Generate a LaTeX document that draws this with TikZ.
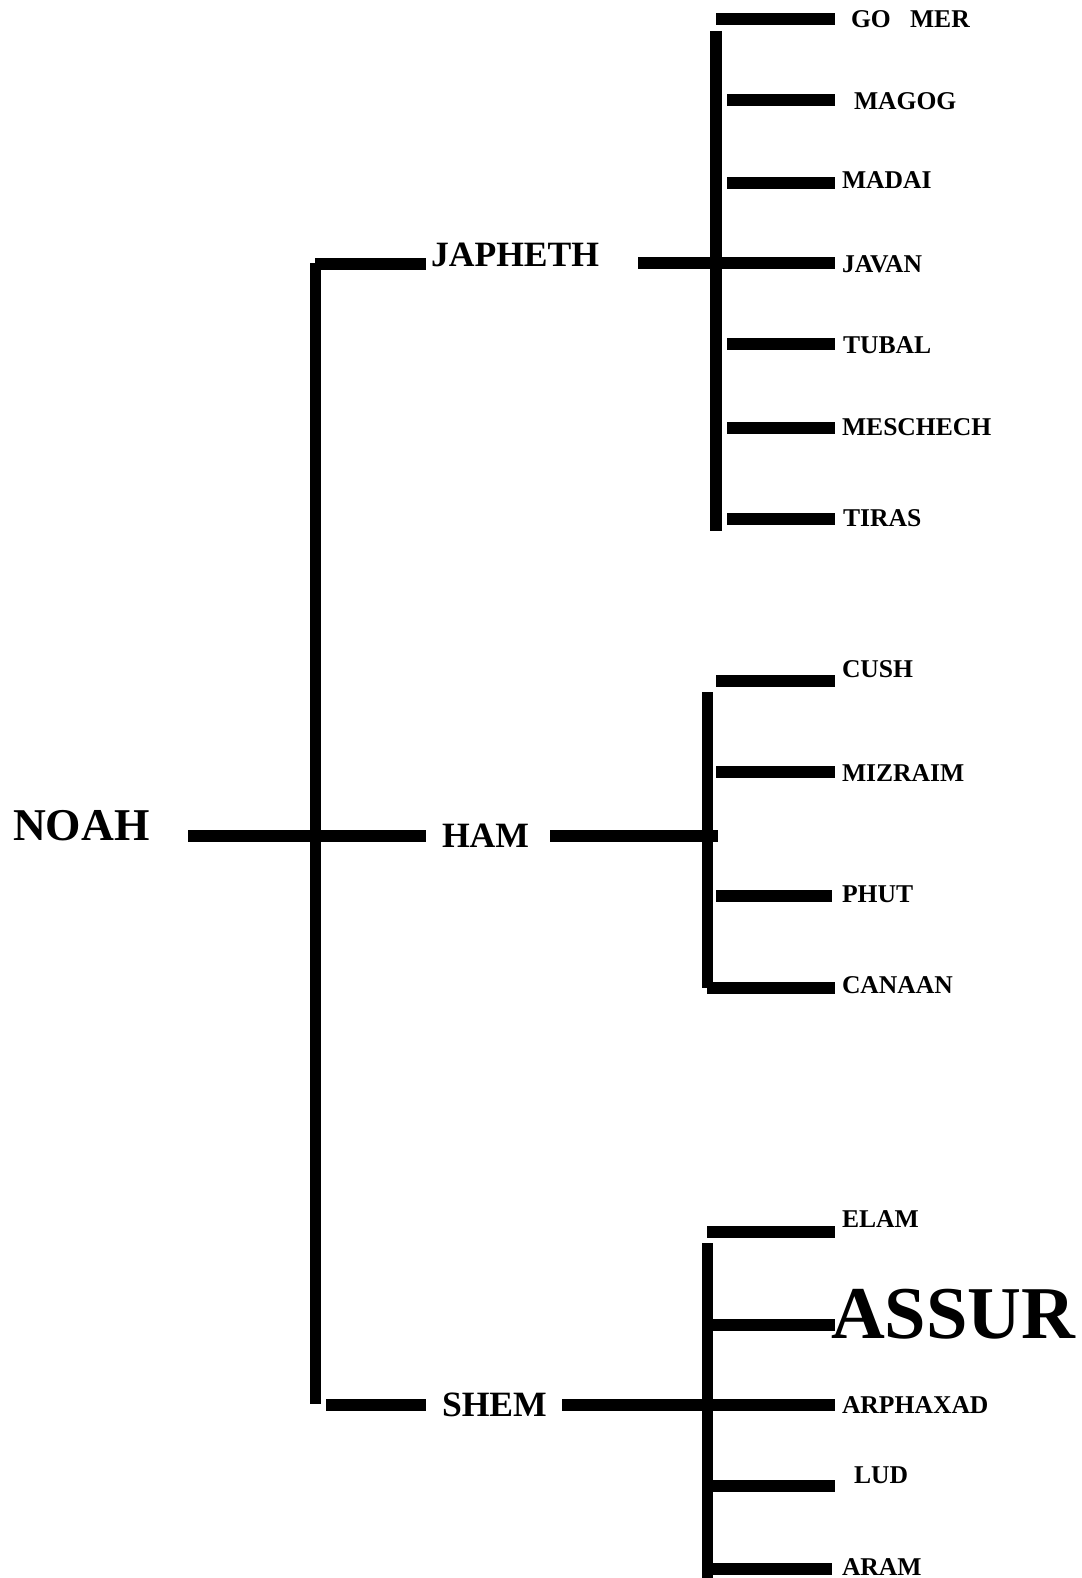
\documentclass[tikz,border=0pt]{standalone}
\usepackage{fontspec}
\setmainfont{Liberation Serif}
\begin{document}
\begin{tikzpicture}[x=1pt,y=-1pt,
  bar/.style={line width=12pt,line cap=butt,black},
  lab/.style={anchor=base west,inner sep=0pt,outer sep=0pt,font=\bfseries\fontsize{25.6}{28}\selectfont},
  son/.style={anchor=base west,inner sep=0pt,outer sep=0pt,font=\bfseries\fontsize{35.6}{40}\selectfont},
  big/.style={anchor=base west,inner sep=0pt,outer sep=0pt,font=\bfseries\fontsize{45.5}{50}\selectfont},
  huge/.style={anchor=base west,inner sep=0pt,outer sep=0pt,font=\bfseries\fontsize{74.5}{80}\selectfont}]
\useasboundingbox (0,0) rectangle (1081,1578);

% names
\node[big] (noah) at (13,840) {NOAH};
\node[son] (japheth) at (431,267) {JAPHETH};
\node[son] (ham) at (442,847) {HAM};
\node[son] (shem) at (442,1416) {SHEM};

\node[lab] (gomer) at (851,28) {GO\ \ \ MER};
\node[lab] (magog) at (854,110) {MAGOG};
\node[lab] (madai) at (842,189) {MADAI};
\node[lab] (javan) at (842,273) {JAVAN};
\node[lab] (tubal) at (843,353) {TUBAL};
\node[lab] (meschech) at (842,435) {MESCHECH};
\node[lab] (tiras) at (843,526) {TIRAS};

\node[lab] (cush) at (842,677) {CUSH};
\node[lab] (mizraim) at (842,781) {MIZRAIM};
\node[lab] (phut) at (842,902) {PHUT};
\node[lab] (canaan) at (842,993) {CANAAN};

\node[lab] (elam) at (842,1227) {ELAM};
\node[huge] (assur) at (831,1338) {ASSUR};
\node[lab] (arphaxad) at (842,1413) {ARPHAXAD};
\node[lab] (lud) at (854,1483) {LUD};
\node[lab] (aram) at (842,1575) {ARAM};

% horizontal bars: name / x start / x end / y
\foreach \n/\xa/\xb/\y in {
  gomerbar/716/835/19, magogbar/727/835/100, madaibar/727/835/183,
  javanbar/638/835/263, tubalbar/727/835/344, meschechbar/727/835/428,
  tirasbar/727/835/519,
  cushbar/716/835/681, mizraimbar/716/835/771.5, hamright/550/718/836,
  phutbar/716/832/896, canaanbar/707/835/987.5,
  elambar/707/835/1232, assurbar/713/835/1324.5, shemright/562/835/1404.5,
  ludbar/713/835/1485.5, arambar/713/832/1569,
  japhleft/315/426/264, noahline/188/426/836, shemleft/326/426/1404.5}
{
  \coordinate (\n-a) at (\xa,\y);
  \coordinate (\n-b) at (\xb,\y);
  \draw[bar] (\n-a) -- (\n-b);
}

% vertical bars
\foreach \n/\x/\ya/\yb in {
  noahv/315.5/263/1404, japhv/716/31/531, hamv/707.5/692/988, shemv/707.5/1243/1578}
{
  \coordinate (\n-a) at (\x,\ya);
  \coordinate (\n-b) at (\x,\yb);
  \draw[bar,line width=11.5pt] (\n-a) -- (\n-b);
}
\end{tikzpicture}
\end{document}
